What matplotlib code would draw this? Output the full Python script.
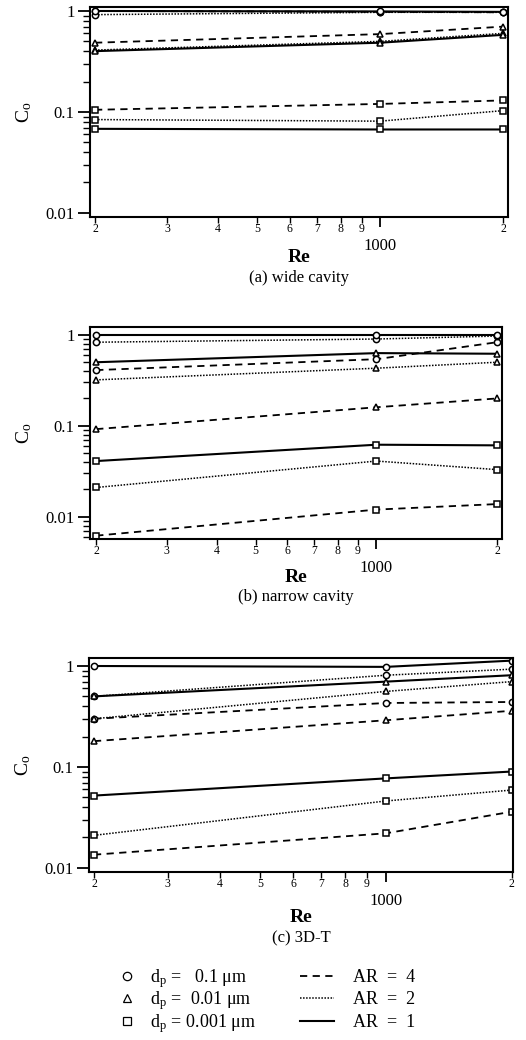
import matplotlib
matplotlib.use("Agg")
import matplotlib.pyplot as plt
from matplotlib.ticker import FixedLocator, FixedFormatter, NullFormatter
from matplotlib.lines import Line2D

plt.rcParams['font.family'] = ['Liberation Serif', 'DejaVu Serif']
plt.rcParams['mathtext.fontset'] = 'stix'

# Re values where Co was computed
re_vals = [200, 1000, 2000]

# each list holds [AR=4, AR=2, AR=1] series
# (a) wide cavity
wide_dp01 = [[1.0, 0.98, 0.97], [0.92, 0.97, 0.97], [1.0, 0.99, 0.98]]
wide_dp001 = [[0.485, 0.59, 0.70], [0.41, 0.50, 0.60], [0.40, 0.485, 0.58]]
wide_dp0001 = [[0.105, 0.12, 0.13], [0.084, 0.081, 0.103], [0.068, 0.067, 0.067]]
# (b) narrow cavity
narrow_dp01 = [[0.41, 0.54, 0.83], [0.83, 0.90, 0.97], [1.0, 1.0, 1.0]]
narrow_dp001 = [[0.092, 0.16, 0.20], [0.32, 0.43, 0.50], [0.50, 0.63, 0.62]]
narrow_dp0001 = [[0.0062, 0.012, 0.0138], [0.021, 0.041, 0.033], [0.041, 0.062, 0.061]]
# (c) 3D-T
t3d_dp01 = [[0.30, 0.43, 0.44], [0.50, 0.81, 0.93], [1.0, 0.98, 1.13]]
t3d_dp001 = [[0.18, 0.29, 0.36], [0.30, 0.56, 0.70], [0.50, 0.70, 0.81]]
t3d_dp0001 = [[0.0135, 0.022, 0.036], [0.021, 0.046, 0.059], [0.052, 0.077, 0.09]]

panels = [
    ("(a) wide cavity", [wide_dp01, wide_dp001, wide_dp0001]),
    ("(b) narrow cavity", [narrow_dp01, narrow_dp001, narrow_dp0001]),
    ("(c) 3D-T", [t3d_dp01, t3d_dp001, t3d_dp0001]),
]

markers = ['o', '^', 's']
dp_labels = [r'd$_\mathregular{p}$ =   0.1 μm', r'd$_\mathregular{p}$ =  0.01 μm', r'd$_\mathregular{p}$ = 0.001 μm']
styles = [(0, (4, 3)), (0, (1, 1)), '-']
widths = [1.3, 1.1, 1.5]
ar_labels = ['AR  =  4', 'AR  =  2', 'AR  =  1']

W, H = 526, 1040
fig = plt.figure(figsize=(W / 100, H / 100), dpi=100)

# axes boxes in pixels: left, right, top, bottom, ylim, xlim
boxes = [
    (90, 508, 7, 217, (0.0091, 1.095), (194.4, 2057)),
    (90, 502, 327, 539, (0.0057, 1.22), (193, 2058)),
    (89, 513, 658, 872, (0.0091, 1.2), (194.6, 2015)),
]
label_y = [(258, 278), (578, 597), (917, 938)]

for (title, groups), (l, r, t, b, ylim, xlim), (ry, cy) in zip(panels, boxes, label_y):
    ax = fig.add_axes([l / W, 1 - b / H, (r - l) / W, (b - t) / H])
    for m, grp in zip(markers, groups):
        for ls, lw, vals in zip(styles, widths, grp):
            ax.plot(re_vals, vals, color='black', linestyle=ls, linewidth=lw,
                    marker=m, markersize=4.5, markerfacecolor='white',
                    markeredgecolor='black', markeredgewidth=1.1)
    ax.set_xscale('log')
    ax.set_yscale('log')
    ax.set_xlim(*xlim)
    ax.set_ylim(*ylim)

    ax.xaxis.set_major_locator(FixedLocator([1000]))
    ax.xaxis.set_major_formatter(FixedFormatter(['1000']))
    minor_x = [200, 300, 400, 500, 600, 700, 800, 900, 2000]
    ax.xaxis.set_minor_locator(FixedLocator(minor_x))
    ax.xaxis.set_minor_formatter(FixedFormatter([str(int(v // 100)) if v < 1000 else '2' for v in minor_x]))
    ax.tick_params(axis='x', which='major', direction='out', length=7, width=1.3, labelsize=12, pad=8)
    ax.tick_params(axis='x', which='minor', direction='out', length=4, width=1.0, labelsize=8.5, pad=0.5)

    ax.yaxis.set_major_locator(FixedLocator([0.01, 0.1, 1]))
    ax.yaxis.set_major_formatter(FixedFormatter(['0.01', '0.1', '1']))
    ax.yaxis.set_minor_formatter(NullFormatter())
    ax.tick_params(axis='y', which='major', direction='out', length=9, width=1.3, labelsize=12, pad=2)
    ax.tick_params(axis='y', which='minor', direction='out', length=5, width=1.0)
    for sp in ax.spines.values():
        sp.set_linewidth(1.5)

    ax.set_ylabel(r'C$_\mathregular{o}$', fontsize=14, labelpad=8)
    cx = (l + r) / 2 / W
    fig.text(cx, 1 - ry / H, 'Re', ha='center', va='center', fontsize=14, fontweight='bold')
    fig.text(cx, 1 - cy / H, title, ha='center', va='center', fontsize=12)

# legend: particle sizes (markers) and aspect ratios (line styles)
dp_handles = [Line2D([], [], linestyle='none', marker=m, markersize=6, markerfacecolor='white',
                     markeredgecolor='black', markeredgewidth=0.9) for m in markers]
ar_handles = [Line2D([], [], color='black', linestyle=ls, linewidth=lw) for ls, lw in zip(styles, widths)]
fig.legend(dp_handles, dp_labels, frameon=False, loc='upper left',
           bbox_to_anchor=(115 / W, 1 - 967 / H), fontsize=13, handlelength=1.35,
           borderpad=0, borderaxespad=0, labelspacing=0.0, handletextpad=0.6)
fig.legend(ar_handles, ar_labels, frameon=False, loc='upper left',
           bbox_to_anchor=(300 / W, 1 - 969 / H), fontsize=13, handlelength=1.9,
           borderpad=0, borderaxespad=0, labelspacing=0.3, handletextpad=1.05)

fig.savefig('out.png', dpi=100)
